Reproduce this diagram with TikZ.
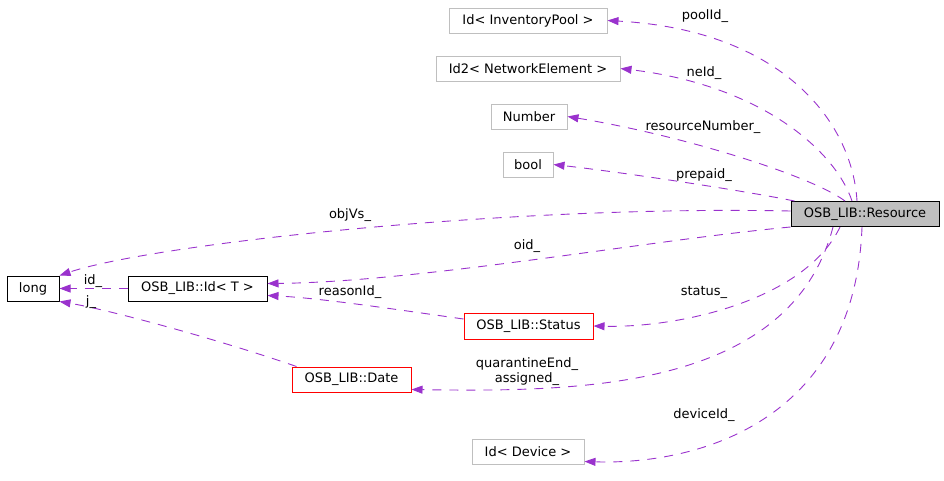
\documentclass[tikz,border=0pt]{standalone}
\usepackage{fontspec}
\setmainfont{DejaVu Sans}
\usepackage{xcolor}
\usetikzlibrary{arrows.meta}
\definecolor{edgecol}{HTML}{9A32CD}
\definecolor{boxgray}{HTML}{BFBFBF}

\begin{document}
\begin{tikzpicture}[x=1pt,y=-1pt,
  every node/.style={font=\fontsize{13}{15}\selectfont},
  box/.style={draw,inner sep=0pt,minimum height=25pt,line width=1pt},
  ext/.style={box,draw=boxgray},
  miss/.style={box,draw=red},
  edge/.style={draw=edgecol,line width=.9pt,dash pattern=on 9pt off 8pt,
    -{Triangle[length=11pt,width=8pt]}},
  lbl/.style={inner sep=0pt}]
\useasboundingbox (0,0) rectangle (944,480);

% classes
\node[box,fill=boxgray,minimum width=148pt] (res) at (865,214) {OSB\_LIB::Resource};
\node[ext,minimum width=158pt] (pool) at (528,20.5) {Id< InventoryPool >};
\node[ext,minimum width=184pt] (ne) at (528,68.5) {Id2< NetworkElement >};
\node[ext,minimum width=76pt] (num) at (529,116.5) {Number};
\node[ext,minimum width=50pt] (bool) at (528,164.5) {bool};
\node[box,minimum width=52pt] (long) at (33,288.5) {long};
\node[box,minimum width=139pt] (idt) at (197.5,288.5) {OSB\_LIB::Id< T >};
\node[miss,minimum width=129pt,minimum height=26pt] (status) at (528.5,326) {OSB\_LIB::Status};
\node[miss,minimum width=119pt] (date) at (351.5,379.5) {OSB\_LIB::Date};
\node[ext,minimum width=112pt] (dev) at (528,451.5) {Id< Device >};

% members of Resource
\draw[edge] ([xshift=-8pt]res.north) .. controls (852,120) and (780,30) .. (pool.east);
\draw[edge] ([xshift=-13pt]res.north) .. controls (835,150) and (760,85) .. (ne.east);
\draw[edge] ([xshift=-20pt]res.north) .. controls (810,175) and (680,135) .. (num.east);
\draw[edge] ([xshift=4pt]res.north west) .. controls (740,190) and (620,172) .. (bool.east);
\draw[edge] ([yshift=3pt]res.west) .. controls (500,205) and (150,245) .. (long.north east);
\draw[edge] (res.south west) .. controls (650,240) and (420,282) .. ([yshift=5pt]idt.east);
\draw[edge] ([xshift=-25pt]res.south) .. controls (805,300) and (680,328) .. (status.east);
\draw[edge] ([xshift=-32pt]res.south) .. controls (790,390) and (580,392) .. ([yshift=3pt]date.south east);
\draw[edge] ([xshift=-3pt]res.south) .. controls (855,420) and (700,465) .. ([yshift=3pt]dev.south east);

% other members
\draw[edge] (idt.west) -- (long.east);
\draw[edge] ([xshift=5pt]date.north west) .. controls (220,340) and (110,310) .. (long.south east);
\draw[edge] ([yshift=7pt]status.west) .. controls (400,310) and (320,298) .. ([yshift=-7pt]idt.east);

% labels
\node[lbl] (lpool) at (705,16) {poolId\_};
\node[lbl] (lne) at (704,73) {neId\_};
\node[lbl] (lnum) at (703,127) {resourceNumber\_};
\node[lbl] (lbool) at (704,175) {prepaid\_};
\node[lbl] (lobj) at (350,215) {objVs\_};
\node[lbl] (loid) at (527,246) {oid\_};
\node[lbl] (lstat) at (704,292) {status\_};
\node[lbl,align=center] (ldate) at (527,372) {quarantineEnd\_\\assigned\_};
\node[lbl] (ldev) at (704,415) {deviceId\_};
\node[lbl] (lid) at (93,281) {id\_};
\node[lbl] (lj) at (91,302) {j\_};
\node[lbl] (lreason) at (350,292) {reasonId\_};
\end{tikzpicture}
\end{document}
